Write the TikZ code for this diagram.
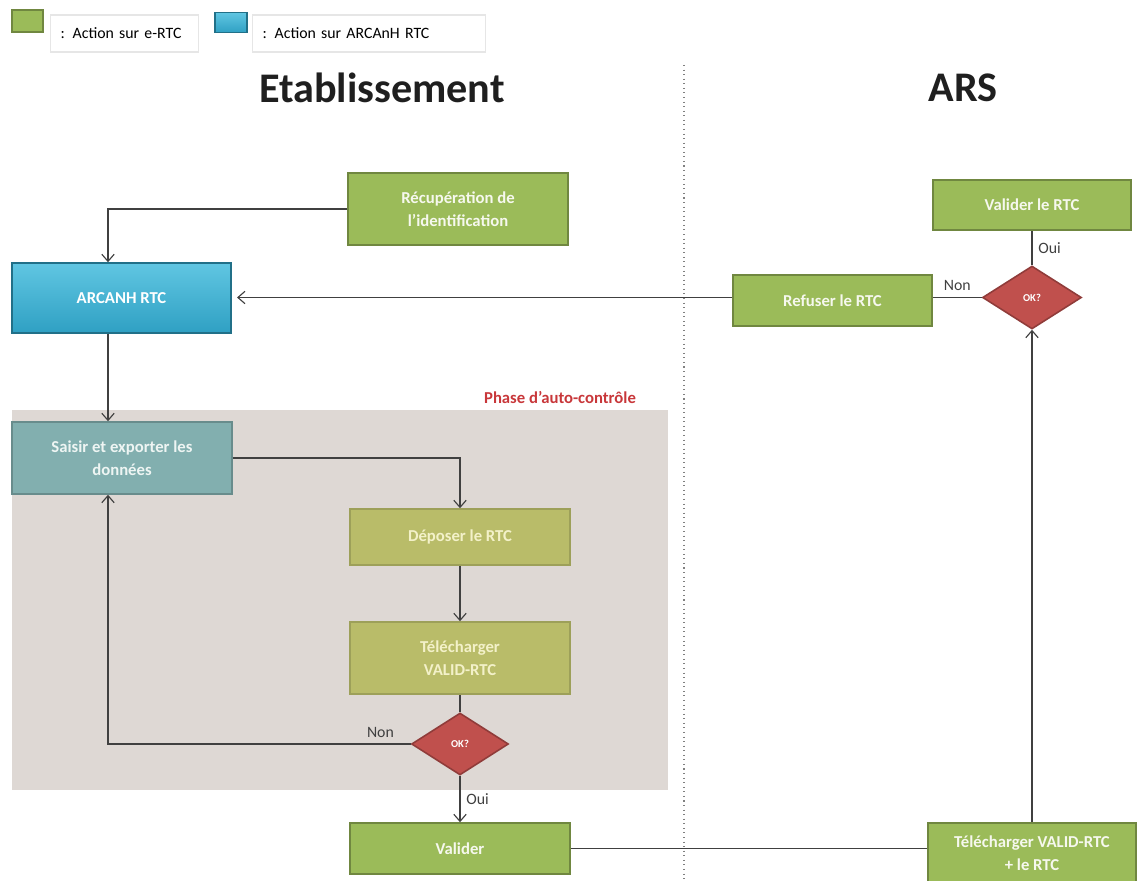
\documentclass[tikz,border=0pt]{standalone}
\usepackage{fontspec}
\setmainfont{Carlito}
\usetikzlibrary{shapes.geometric, arrows.meta}

\begin{document}
\begin{tikzpicture}[x=0.02cm, y=-0.02cm, >={Straight Barb[length=4pt, width=7pt]},
		every node/.style={font=\bfseries\fontsize{9.5}{13}\selectfont},
		ebox/.style={rectangle, draw=sgreen!72!black, line width=0.9pt, fill=sgreen, text=sgtext, minimum width=4.4cm, align=center},
		abox/.style={rectangle, draw=sblue!70!black, line width=0.9pt, top color=sbluetop, bottom color=sblue, text=white, align=center},
		tbox/.style={rectangle, draw=steal!80!black, line width=0.9pt, fill=steal, text=sttext, minimum width=4.4cm, align=center},
		obox/.style={rectangle, draw=solive!85!black, line width=0.9pt, fill=solive, text=sotext, minimum width=4.4cm, align=center},
		test/.style={diamond, draw=sred!75!black, line width=0.9pt, fill=sred, text=white, inner sep=0, font=\bfseries\fontsize{6}{7}\selectfont},
		legbox/.style={rectangle, draw=slegend, fill=white, line width=0.6pt, align=left, inner xsep=0.2cm, font=\fontsize{9}{11}\selectfont},
		link/.style={draw=sline, line width=0.65pt},
		lbl/.style={font=\fontsize{9}{11}\selectfont, text=sline}]
		\definecolor{sgreen}{HTML}{9BBB59}
		\definecolor{sgtext}{HTML}{F6F8EE}
		\definecolor{sblue}{HTML}{2FA0C3}
		\definecolor{sbluetop}{HTML}{60C6E2}
		\definecolor{steal}{HTML}{82AFAF}
		\definecolor{sttext}{HTML}{EEF5F3}
		\definecolor{solive}{HTML}{B9BC69}
		\definecolor{sotext}{HTML}{F3F1C9}
		\definecolor{sred}{HTML}{C0504D}
		\definecolor{sphase}{HTML}{DED8D4}
		\definecolor{sphasetext}{HTML}{C8373A}
		\definecolor{sline}{HTML}{404040}
		\definecolor{slegend}{HTML}{E6E6E6}
		\definecolor{stitle}{HTML}{1F1F1F}
		\useasboundingbox (0,0) rectangle (1140,881);
		\node at (27.5,21) [ebox, minimum width=0.62cm, minimum height=0.44cm] (legE) {};
		\node at (50,33.5) [legbox, anchor=west, text width=2.56cm, minimum height=0.74cm] (legEtext) {: Action sur e-RTC};
		\node at (231,22.5) [abox, minimum width=0.64cm, minimum height=0.4cm] (legA) {};
		\node at (252,33.5) [legbox, anchor=west, text width=4.26cm, minimum height=0.74cm] (legAtext) {: Action sur ARCAnH RTC};
		\node at (382,88) [font=\bfseries\fontsize{24}{28}\selectfont, text=stitle] (etab) {Etablissement};
		\node at (963,88) [font=\bfseries\fontsize{24}{28}\selectfont, text=stitle] (ars) {ARS};
		\draw[gray, dotted, line width=0.6pt] (684,65) -- (684,881);
		\fill[sphase] (12,410) rectangle (668,790);
		\node at (560,397) [text=sphasetext] (phase) {Phase d’auto-contrôle};
		\node at (458,209) [ebox, minimum height=1.44cm] (recup) {Récupération de\\l’identification};
		\node at (121.5,298) [abox, minimum width=4.38cm, minimum height=1.4cm] (arcanh) {ARCANH RTC};
		\node at (122,458) [tbox, minimum height=1.44cm] (saisir) {Saisir et exporter les\\données};
		\node at (460,537) [obox, minimum height=1.12cm] (deposer) {Déposer le RTC};
		\node at (460,658) [obox, minimum height=1.44cm] (telech) {Télécharger\\VALID-RTC};
		\node at (460,744) [test, minimum width=1.94cm, minimum height=1.24cm] (ok1) {OK?};
		\node at (460,848.5) [ebox, minimum height=1.02cm] (valider) {Valider};
		\node at (1032,853) [ebox, minimum width=4.16cm, minimum height=1.2cm] (telars) {Télécharger VALID-RTC\\+ le RTC};
		\node at (1032,297.5) [test, minimum width=1.98cm, minimum height=1.26cm] (ok2) {OK?};
		\node at (1032,205) [ebox, minimum width=3.96cm, minimum height=1cm] (valrtc) {Valider le RTC};
		\node at (832.5,300.5) [ebox, minimum width=3.98cm, minimum height=1.02cm] (refus) {Refuser le RTC};
		\coordinate (col) at (108,0);
		\draw[link, ->] (recup.west) -| (arcanh.north -| col);
		\draw[link, ->] (arcanh.south -| col) -- (saisir.north -| col);
		\draw[link, ->] (saisir.east) -| (deposer.north);
		\draw[link, ->] (deposer.south) -- (telech.north);
		\draw[link] (telech.south) -- (ok1.north);
		\draw[link, ->] (ok1.west) -| (saisir.south -| col) node[lbl, pos=0.05, above] (non1) {Non};
		\draw[link, ->] (ok1.south) -- (valider.north) node[lbl, midway, right] (oui1) {Oui};
		\draw[link] (valider.east) -- (valider.east -| telars.west);
		\draw[link, ->] (telars.north) -- (ok2.south);
		\draw[link] (ok2.north) -- (valrtc.south) node[lbl, midway, right] (oui2) {Oui};
		\draw[link] (ok2.west) -- (ok2.west -| refus.east) node[lbl, midway, above] (non2) {Non};
		\draw[link, ->, shorten >=3pt] (ok2.west -| refus.west) -- (ok2.west -| arcanh.east);
	\end{tikzpicture}
\end{document}
